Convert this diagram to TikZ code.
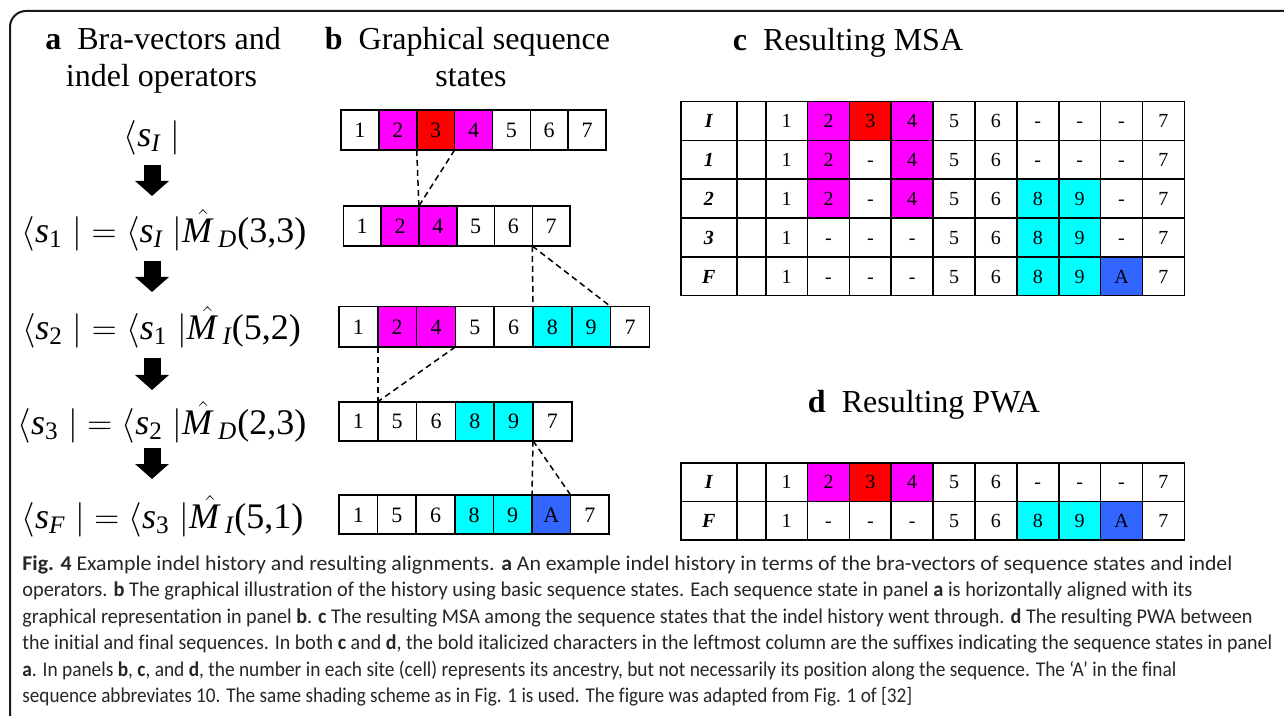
\documentclass[tikz,border=0pt]{standalone}
\usepackage{amsmath}
\usepackage{graphicx}
\usepackage{fontspec}
\setmainfont{Liberation Serif}
\newfontfamily\capfont[Ligatures={NoCommon}]{Carlito}
\usetikzlibrary{arrows.meta}
\definecolor{mag}{RGB}{255,0,255}
\definecolor{redc}{RGB}{255,0,0}
\definecolor{cyn}{RGB}{0,255,255}
\definecolor{blu}{RGB}{51,102,255}
\newcommand{\sq}[1]{\textit{s}_{#1}\;}
\newcommand{\Mop}[2]{\kern3pt{\hat{\kern-3pt\textit{M}\kern3pt}}_{\textit{#1}}\textup{(#2)}}
\newcommand{\capfit}[2]{\resizebox{#1}{\height}{#2}}
\newcommand{\msarow}[4]{%
  \node[tcell,minimum width=27.85pt,font=\fontsize{10}{12}\selectfont\bfseries\itshape] (#1l) at (681,#2) {#3};
  \node[tcell,minimum width=14.5pt] (#1e) at (736.7,#2) {};
  \foreach \t/\c [count=\i] in {#4}
    \node[tcell,fill=\c,minimum width=20.93pt] (#1c\i) at ({765.7+(\i-1)*41.86},#2) {\t};
}
\begin{document}
\begin{tikzpicture}[x=0.5pt,y=-0.5pt,
  bcell/.style={draw=black,line width=0.8pt,anchor=north west,inner sep=0pt,outer sep=0pt,text height=7.4pt,text depth=0pt,font=\fontsize{11}{13}\selectfont},
  tcell/.style={draw=black,line width=0.8pt,anchor=north west,inner sep=0pt,outer sep=0pt,minimum height=19.4pt,text height=6.8pt,text depth=0pt,font=\fontsize{10}{12}\selectfont},
  ttl/.style={font=\fontsize{16}{18.5}\selectfont,inner sep=0pt,anchor=base},
  eqn/.style={font=\fontsize{18}{21}\selectfont,inner sep=0pt},
  conn/.style={dash pattern=on 3pt off 2pt,line width=0.75pt},
  bigarrow/.style={line width=8.5pt,-{Triangle[width=16.5pt,length=7.5pt]}},
  capline/.style={anchor=base west,inner sep=0pt,font=\capfont\fontsize{10.5}{13}\selectfont,text=black!85}]
\useasboundingbox (0,0) rectangle (1284,716);
\clip (0,0) rectangle (1284,716);
\fill[white] (0,0) rectangle (1284,716);
% frame
\draw[line width=1pt,black!90,rounded corners=8pt] (10,730) -- (10,11) -- (1300,11);
% titles
\node[ttl] (ta1) at (163,50) {\textbf{a}\hspace{0.5em}Bra-vectors and};
\node[ttl] (ta2) at (161.5,87) {indel operators};
\node[ttl] (tb1) at (467.5,50) {\textbf{b}\hspace{0.5em}Graphical sequence};
\node[ttl] (tb2) at (471,87) {states};
\node[ttl] (tc) at (848,51) {\textbf{c}\hspace{0.5em}Resulting MSA};
\node[ttl] (td) at (924,412) {\textbf{d}\hspace{0.5em}Resulting PWA};
% equations
\node[eqn] (e0) at (152,138) {$\langle\sq{\textit{I}}|$};
\node[eqn] (e1) at (164,230) {$\langle\sq{\textup{1}}|=\langle\sq{\textit{I}}|\Mop{D}{3,3}$};
\node[eqn] (e2) at (161.5,327) {$\langle\sq{\textup{2}}|=\langle\sq{\textup{1}}|\Mop{I}{5,2}$};
\node[eqn] (e3) at (162,422) {$\langle\sq{\textup{3}}|=\langle\sq{\textup{2}}|\Mop{D}{2,3}$};
\node[eqn] (e4) at (162.5,516) {$\langle\sq{\textit{F}}|=\langle\sq{\textup{3}}|\Mop{I}{5,1}$};
% arrows
\coordinate (a1s) at (152,165); \coordinate (a1e) at (152,196);
\coordinate (a2s) at (152,261); \coordinate (a2e) at (152,292);
\coordinate (a3s) at (152,358); \coordinate (a3e) at (152,390);
\coordinate (a4s) at (152,448); \coordinate (a4e) at (152,479);
\draw[bigarrow] (a1s) -- (a1e);
\draw[bigarrow] (a2s) -- (a2e);
\draw[bigarrow] (a3s) -- (a3e);
\draw[bigarrow] (a4s) -- (a4e);
% panel b rows
\foreach \t/\c [count=\i] in {1/white,2/mag,3/redc,4/mag,5/white,6/white,7/white}
  \node[bcell,fill=\c,minimum width=18.93pt,minimum height=20pt] (ra\i) at ({341+(\i-1)*37.86},110) {\t};
\foreach \t/\c [count=\i] in {1/white,2/mag,4/mag,5/white,6/white,7/white}
  \node[bcell,fill=\c,minimum width=18.9pt,minimum height=20pt] (rb\i) at ({343.3+(\i-1)*37.8},206) {\t};
\foreach \t/\c [count=\i] in {1/white,2/mag,4/mag,5/white,6/white,8/cyn,9/cyn,7/white}
  \node[bcell,fill=\c,minimum width=19.4pt,minimum height=20.2pt] (rc\i) at ({339+(\i-1)*38.8},306.5) {\t};
\foreach \t/\c [count=\i] in {1/white,5/white,6/white,8/cyn,9/cyn,7/white}
  \node[bcell,fill=\c,minimum width=19.4pt,minimum height=19.5pt] (rd\i) at ({339+(\i-1)*38.8},401.7) {\t};
\foreach \t/\c [count=\i] in {1/white,5/white,6/white,8/cyn,9/cyn,A/blu,7/white}
  \node[bcell,fill=\c,minimum width=19.3pt,minimum height=19.6pt] (re\i) at ({339+(\i-1)*38.6},495) {\t};
% dashed connectors
\draw[conn] (ra2.south east) -- (rb2.north east);
\draw[conn] (ra3.south east) -- (rb2.north east);
\draw[conn] (rb5.south east) -- (rc5.north east);
\draw[conn] (rb5.south east) -- (rc7.north east);
\draw[conn] (rc1.south east) -- (rd1.north east);
\draw[conn] (rc3.south east) -- (rd1.north east);
\draw[conn] (rd5.south east) -- (re5.north east);
\draw[conn] (rd5.south east) -- (re6.north east);
% panel c
\msarow{mI}{101.7}{I}{1/white,2/mag,3/redc,4/mag,5/white,6/white,-/white,-/white,-/white,7/white}
\msarow{mA}{140.5}{1}{1/white,2/mag,-/white,4/mag,5/white,6/white,-/white,-/white,-/white,7/white}
\msarow{mB}{179.3}{2}{1/white,2/mag,-/white,4/mag,5/white,6/white,8/cyn,9/cyn,-/white,7/white}
\msarow{mC}{218.1}{3}{1/white,-/white,-/white,-/white,5/white,6/white,8/cyn,9/cyn,-/white,7/white}
\msarow{mF}{256.9}{F}{1/white,-/white,-/white,-/white,5/white,6/white,8/cyn,9/cyn,A/blu,7/white}
% panel d
\msarow{pI}{462.7}{I}{1/white,2/mag,3/redc,4/mag,5/white,6/white,-/white,-/white,-/white,7/white}
\msarow{pF}{501.4}{F}{1/white,-/white,-/white,-/white,5/white,6/white,8/cyn,9/cyn,A/blu,7/white}
% caption
\node[capline] (c1) at (22,570) {\capfit{605pt}{\textbf{Fig. 4} Example indel history and resulting alignments. \textbf{a} An example indel history in terms of the bra-vectors of sequence states and indel}};
\node[capline] (c2) at (22,596.5) {\capfit{585pt}{operators. \textbf{b} The graphical illustration of the history using basic sequence states. Each sequence state in panel \textbf{a} is horizontally aligned with its}};
\node[capline] (c3) at (22,623) {\capfit{615pt}{graphical representation in panel \textbf{b}. \textbf{c} The resulting MSA among the sequence states that the indel history went through. \textbf{d} The resulting PWA between}};
\node[capline] (c4) at (22,649.5) {\capfit{625pt}{the initial and final sequences. In both \textbf{c} and \textbf{d}, the bold italicized characters in the leftmost column are the suffixes indicating the sequence states in panel}};
\node[capline] (c5) at (22,676) {\capfit{577pt}{\textbf{a}. In panels \textbf{b}, \textbf{c}, and \textbf{d}, the number in each site (cell) represents its ancestry, but not necessarily its position along the sequence. The ‘A’ in the final}};
\node[capline] (c6) at (22,702.5) {\capfit{445pt}{sequence abbreviates 10. The same shading scheme as in Fig. 1 is used. The figure was adapted from Fig. 1 of [32]}};
\end{tikzpicture}
\end{document}
